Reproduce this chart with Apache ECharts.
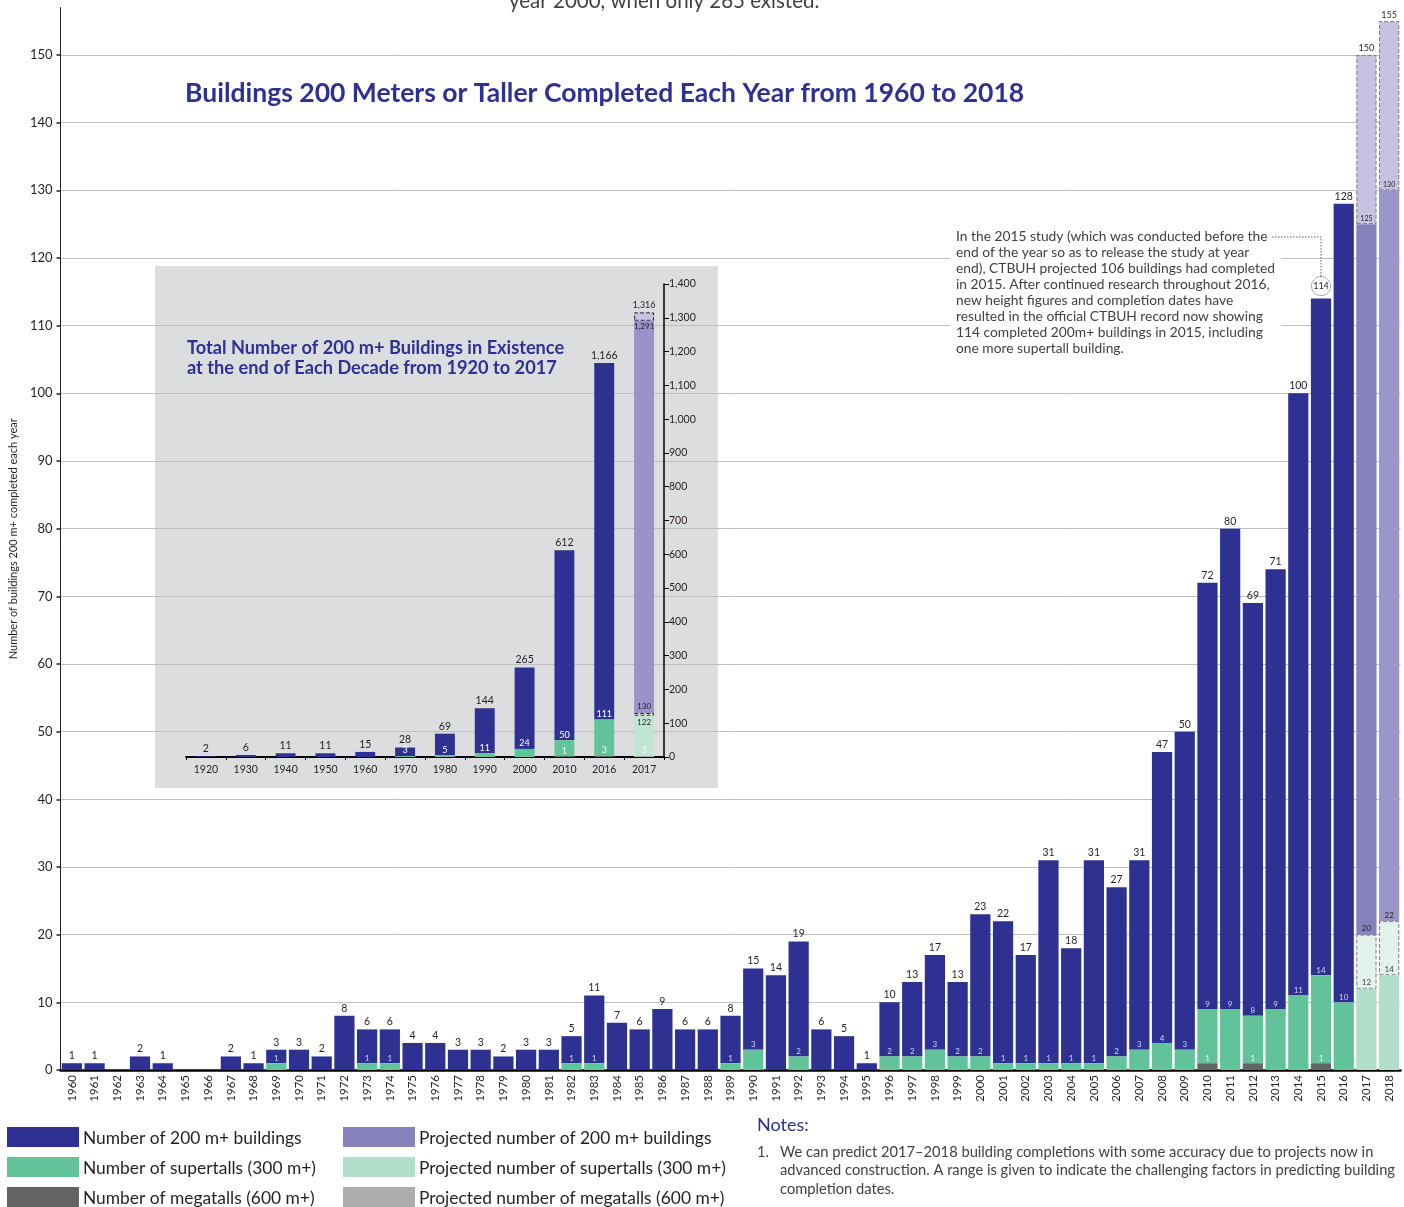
<!DOCTYPE html>
<html><head><meta charset="utf-8">
<script src="https://cdn.jsdelivr.net/npm/echarts@6/dist/echarts.min.js"></script>
<style>html,body{margin:0;padding:0;background:#fff}#c{width:1404px;height:1207px}</style>
</head><body><div id="c"></div>
<script>
// ---------- Main chart data (buildings 200 m+ completed each year) ----------
const years = ['1960','1961','1962','1963','1964','1965','1966','1967','1968','1969',
  '1970','1971','1972','1973','1974','1975','1976','1977','1978','1979',
  '1980','1981','1982','1983','1984','1985','1986','1987','1988','1989',
  '1990','1991','1992','1993','1994','1995','1996','1997','1998','1999',
  '2000','2001','2002','2003','2004','2005','2006','2007','2008','2009',
  '2010','2011','2012','2013','2014','2015','2016','2017','2018'];
const total = [1,1,0,2,1,0,0,2,1,3, 3,2,8,6,6,4,4,3,3,2, 3,3,5,11,7,6,9,6,6,8,
  15,14,19,6,5,1,10,13,17,13, 23,22,17,31,18,31,27,31,47,50, 72,80,69,74,100,114,128];
const totalLabels = [1,1,0,2,1,0,0,2,1,3, 3,2,8,6,6,4,4,3,3,2, 3,3,5,11,7,6,9,6,6,8,
  15,14,19,6,5,1,10,13,17,13, 23,22,17,31,18,31,27,31,47,50, 72,80,69,71,100,114,128];
const supertall = [0,0,0,0,0,0,0,0,0,1, 0,0,0,1,1,0,0,0,0,0, 0,0,1,1,0,0,0,0,0,1,
  3,0,2,0,0,0,2,2,3,2, 2,1,1,1,1,1,2,3,4,3, 9,9,8,9,11,14,10];
const megatall = [0,0,0,0,0,0,0,0,0,0, 0,0,0,0,0,0,0,0,0,0, 0,0,0,0,0,0,0,0,0,0,
  0,0,0,0,0,0,0,0,0,0, 0,0,0,0,0,0,0,0,0,0, 1,0,1,0,0,1,0];
// projections for 2017, 2018 (low / high of range)
const projTotalLow = [125,130];
const projTotalHigh = [150,155];
const projSuperLow = [12,14];
const projSuperHigh = [20,22];
const yTicks = [0,10,20,30,40,50,60,70,80,90,100,110,120,130,140,150];

// ---------- Inset data (total in existence at end of each decade) ----------
const decades = ['1920','1930','1940','1950','1960','1970','1980','1990','2000','2010','2016','2017'];
const cumTotal = [2,6,11,11,15,28,69,144,265,612,1166];
const cumSuper = [0,0,0,0,0,3,5,11,24,50,111];
const cumMega = [0,0,0,0,0,0,0,0,0,1,3];
const cumProjTotal = [1291,1316];
const cumProjSuper = [122,130];
const cumProjMega = [3];

const F = 'Lato, "Open Sans", sans-serif';
const NAVY = '#2e3192', GREEN = '#62c39b', MEGA = '#636466';
const P_PURPLE = '#8781bd', P_GREEN = '#b1dfcb', P_MEGA = '#adadad';
const DARK = '#231f20';

const chart = echarts.init(document.getElementById('c'), null, {renderer:'canvas'});

// ---------- main series ----------
const N = years.length, H = total.length;
const idx = [...Array(N).keys()];
const hist = f => idx.map(i => i < H ? f(i) : '-');
const proj = f => idx.map(i => i >= H ? f(i - H) : '-');
const inner = {show:true, position:'top', distance:1, fontSize:8, color:'#d2d2ee', fontFamily:F};
const topLab = {show:true, position:'top', distance:2, fontSize:10.5, color:DARK, fontFamily:F};
const dashed = {borderColor:'#7d7d7d', borderWidth:1, borderType:'dashed'};
const gapMain = '11%';

const navyData = hist(i => total[i] - supertall[i]).map((v, i) => {
  if (years[i] === '2015') {
    return {value:v, label:{width:19, height:19, lineHeight:19, align:'center', padding:0,
      borderColor:'#58595b', borderWidth:1, borderType:'dotted', borderRadius:10, fontSize:9, distance:3}};
  }
  return v;
});

const mainSeries = [
  {name:'Number of megatalls (600 m+)', type:'bar', stack:'m', barCategoryGap:gapMain, z:9,
   data:hist(i => megatall[i]), itemStyle:{color:MEGA},
   label:{...inner, color:'#eef6f2', formatter:p => megatall[p.dataIndex] > 0 ? megatall[p.dataIndex] : ''}},
  {name:'Number of supertalls (300 m+)', type:'bar', stack:'m', barCategoryGap:gapMain, z:8,
   data:hist(i => supertall[i] - megatall[i]), itemStyle:{color:GREEN},
   label:{...inner, formatter:p => supertall[p.dataIndex] > 0 ? supertall[p.dataIndex] : ''}},
  {name:'Number of 200 m+ buildings', type:'bar', stack:'m', barCategoryGap:gapMain, z:7,
   data:navyData, itemStyle:{color:NAVY},
   label:{...topLab, formatter:p => totalLabels[p.dataIndex] > 0 ? totalLabels[p.dataIndex] : ''}},
  {name:'Projected number of supertalls (300 m+)', type:'bar', stack:'m', barCategoryGap:gapMain, z:6,
   data:proj(j => projSuperLow[j]), itemStyle:{color:P_GREEN},
   label:{...topLab, fontSize:8, color:'#414042', formatter:p => projSuperLow[p.dataIndex - H]}},
  {name:'Projected supertall range', type:'bar', stack:'m', barCategoryGap:gapMain, z:5,
   data:proj(j => projSuperHigh[j] - projSuperLow[j]), itemStyle:{color:'#e4f2ec', ...dashed},
   label:{...topLab, fontSize:8, formatter:p => projSuperHigh[p.dataIndex - H]}},
  {name:'Projected number of 200 m+ buildings', type:'bar', stack:'m', barCategoryGap:gapMain, z:4,
   data:proj(j => projTotalLow[j] - projSuperHigh[j]),
   itemStyle:{color:p => p.dataIndex === H ? '#8680bd' : '#9b96ca'},
   label:{...topLab, fontSize:7, formatter:p => projTotalLow[p.dataIndex - H]}},
  {name:'Projected 200 m+ range', type:'bar', stack:'m', barCategoryGap:gapMain, z:3,
   data:proj(j => projTotalHigh[j] - projTotalLow[j]), itemStyle:{color:'#c6c2e1', ...dashed},
   label:{...topLab, fontSize:9, formatter:p => projTotalHigh[p.dataIndex - H]}}
];

// ---------- inset series ----------
const M = decades.length, HI = cumTotal.length;
const idx2 = [...Array(M).keys()];
const fmt = v => Number(v).toLocaleString('en-US');
const gapIn = '50%';
const insetCommon = {type:'bar', stack:'i', xAxisIndex:1, yAxisIndex:1, barCategoryGap:gapIn};
const innerIn = {show:true, position:'top', distance:1, fontSize:9, color:'#ffffff', fontFamily:F};
const insetSeries = [
  {...insetCommon, name:'inset mega', z:9,
   data:idx2.map(i => i < HI ? cumMega[i] : cumProjMega[0]),
   itemStyle:{color:p => p.dataIndex < HI ? MEGA : P_MEGA},
   label:{...innerIn, color:'#f4fbf8', formatter:p => {const v = p.dataIndex < HI ? cumMega[p.dataIndex] : cumProjMega[0]; return v > 0 ? v : '';}}},
  {...insetCommon, name:'inset super', z:8,
   data:idx2.map(i => i < HI ? cumSuper[i] - cumMega[i] : '-'), itemStyle:{color:GREEN},
   label:{...innerIn, formatter:p => cumSuper[p.dataIndex] > 0 ? fmt(cumSuper[p.dataIndex]) : ''}},
  {...insetCommon, name:'inset total', z:7,
   data:idx2.map(i => i < HI ? cumTotal[i] - cumSuper[i] : '-'), itemStyle:{color:NAVY},
   label:{...topLab, fontSize:10.5, formatter:p => fmt(cumTotal[p.dataIndex])}},
  {...insetCommon, name:'inset proj super', z:6,
   data:idx2.map(i => i === HI ? cumProjSuper[0] - cumProjMega[0] : '-'), itemStyle:{color:'#c0e5d4'},
   label:{show:true, position:'insideTop', distance:3, fontSize:8, color:DARK, fontFamily:F, formatter:() => fmt(cumProjSuper[0])}},
  {...insetCommon, name:'inset proj super range', z:5,
   data:idx2.map(i => i === HI ? cumProjSuper[1] - cumProjSuper[0] : '-'), itemStyle:{color:'#e4f2ec', borderColor:'#222', borderWidth:1, borderType:'dashed'},
   label:{show:true, position:'top', distance:3, fontSize:8, color:DARK, fontFamily:F, formatter:() => fmt(cumProjSuper[1])}},
  {...insetCommon, name:'inset proj total', z:4,
   data:idx2.map(i => i === HI ? cumProjTotal[0] - cumProjSuper[1] : '-'), itemStyle:{color:'#9993c9'},
   label:{show:true, position:'insideTop', distance:2, fontSize:8, color:DARK, fontFamily:F, formatter:() => fmt(cumProjTotal[0])}},
  {...insetCommon, name:'inset proj total range', z:3,
   data:idx2.map(i => i === HI ? cumProjTotal[1] - cumProjTotal[0] : '-'), itemStyle:{color:'#c6c2e1', borderColor:'#222', borderWidth:1, borderType:'dashed'},
   label:{show:true, position:'top', distance:3, fontSize:9, color:DARK, fontFamily:F, formatter:() => fmt(cumProjTotal[1])}}
];

// ---------- legend (drawn as graphic) ----------
const legendItems = [
  ['Number of 200 m+ buildings', NAVY], ['Number of supertalls (300 m+)', GREEN], ['Number of megatalls (600 m+)', MEGA],
  ['Projected number of 200 m+ buildings', P_PURPLE], ['Projected number of supertalls (300 m+)', P_GREEN], ['Projected number of megatalls (600 m+)', P_MEGA]
];
const legendGraphics = [];
legendItems.forEach((it, k) => {
  const col = Math.floor(k / 3), row = k % 3;
  const x0 = col === 0 ? 7 : 343, y0 = 1127 + row * 30;
  legendGraphics.push({type:'rect', id:'lr' + k, shape:{x:x0, y:y0, width:72, height:20}, style:{fill:it[1]}, z:20});
  legendGraphics.push({type:'text', id:'lt' + k, x:x0 + 76, y:y0 + 11,
    style:{text:it[0], fontSize:17.4, fontFamily:F, fill:DARK, verticalAlign:'middle'}, z:20});
});

const annotation = [
  'In the 2015 study (which was conducted before the',
  'end of the year so as to release the study at year',
  'end), CTBUH projected 106 buildings had completed',
  'in 2015. After continued research throughout 2016,',
  'new height figures and completion dates have',
  'resulted in the official CTBUH record now showing',
  '114 completed 200m+ buildings in 2015, including',
  'one more supertall building.'
].join('\n');

const option = {
  animation:false,
  backgroundColor:'#fff',
  textStyle:{fontFamily:F},
  title:[
    {text:'Buildings 200 Meters or Taller Completed Each Year from 1960 to 2018', left:180, top:75,
     textStyle:{fontSize:26.5, fontWeight:'bold', color:NAVY, fontFamily:F}},
    {text:'Total Number of 200 m+ Buildings in Existence\nat the end of Each Decade from 1920 to 2017', left:182, top:333,
     textStyle:{fontSize:18.2, fontWeight:'bold', color:NAVY, fontFamily:F, lineHeight:20}}
  ],
  grid:[
    {left:57, right:3.5, top:7.6, bottom:137},
    {left:186, right:740, top:284, bottom:450}
  ],
  xAxis:[
    {type:'category', gridIndex:0, data:years,
     axisLine:{lineStyle:{color:'#000', width:2.5}}, axisTick:{show:false},
     axisLabel:{rotate:90, fontSize:11.5, color:DARK, margin:5, fontFamily:F, interval:0}},
    {type:'category', gridIndex:1, data:decades,
     axisLine:{lineStyle:{color:'#000', width:2}}, axisTick:{show:true, length:3, lineStyle:{color:'#000'}},
     axisLabel:{fontSize:10.5, color:DARK, margin:7, fontFamily:F, interval:0}}
  ],
  yAxis:[
    {type:'value', gridIndex:0, min:0, max:157, interval:10,
     name:'Number of buildings 200 m+ completed each year', nameLocation:'middle', nameGap:40,
     nameTextStyle:{fontSize:11, color:DARK, fontFamily:F},
     axisLine:{show:true, lineStyle:{color:DARK, width:1}},
     axisTick:{show:true, length:4, lineStyle:{color:DARK, width:1.5}, customValues:yTicks},
     axisLabel:{fontSize:13, color:DARK, margin:8, fontFamily:F, customValues:yTicks},
     splitLine:{show:true, lineStyle:{color:'#bcbec0', width:1}}},
    {type:'value', gridIndex:1, position:'right', min:0, max:1400, interval:100,
     axisLine:{show:true, lineStyle:{color:'#000', width:1.5}},
     axisTick:{show:true, length:5, lineStyle:{color:'#000'}},
     axisLabel:{fontSize:10.5, color:DARK, margin:5, fontFamily:F, formatter:v => fmt(v)},
     splitLine:{show:false}}
  ],
  graphic:[
    {type:'rect', id:'insetBox', shape:{x:155, y:266, width:563, height:522}, style:{fill:'#dcdddf'}, z:-1},
    {type:'text', id:'cutText', x:509, y:12, style:{text:'year 2000, when only 265 existed.', fontSize:20.5, fontFamily:F, fill:'#414042', verticalAlign:'bottom'}, z:20},
    {type:'text', id:'annot', x:950, y:229, style:{text:annotation, fontSize:13.8, lineHeight:16, fontFamily:F, fill:'#414042',
      backgroundColor:'#fff', padding:[0,6,0,6]}, z:20},
    {type:'text', id:'notesH', x:757, y:1125, style:{text:'Notes:', fontSize:18, fontFamily:F, fill:NAVY, verticalAlign:'middle'}, z:20},
    {type:'text', id:'notesN', x:757, y:1143, style:{text:'1.', fontSize:14.7, lineHeight:18.5, fontFamily:F, fill:'#414042'}, z:20},
    {type:'text', id:'notesT', x:780, y:1143, style:{text:'We can predict 2017\u20132018 building completions with some accuracy due to projects now in\nadvanced construction. A range is given to indicate the challenging factors in predicting building\ncompletion dates.', fontSize:14.7, lineHeight:18.5, fontFamily:F, fill:'#414042'}, z:20},
    ...legendGraphics
  ],
  series:[...mainSeries, ...insetSeries]
};
chart.setOption(option);

// dotted leader from annotation to the 2015 label
const p = chart.convertToPixel({xAxisIndex:0, yAxisIndex:0}, ['2015', 114]);
chart.setOption({graphic:[{type:'polyline', id:'leader', shape:{points:[[1272, 237], [p[0], 237], [p[0], p[1] - 22]]},
  style:{stroke:'#58595b', lineWidth:1, lineDash:[1.5, 1.5], fill:null}, z:20}]});
</script></body></html>
